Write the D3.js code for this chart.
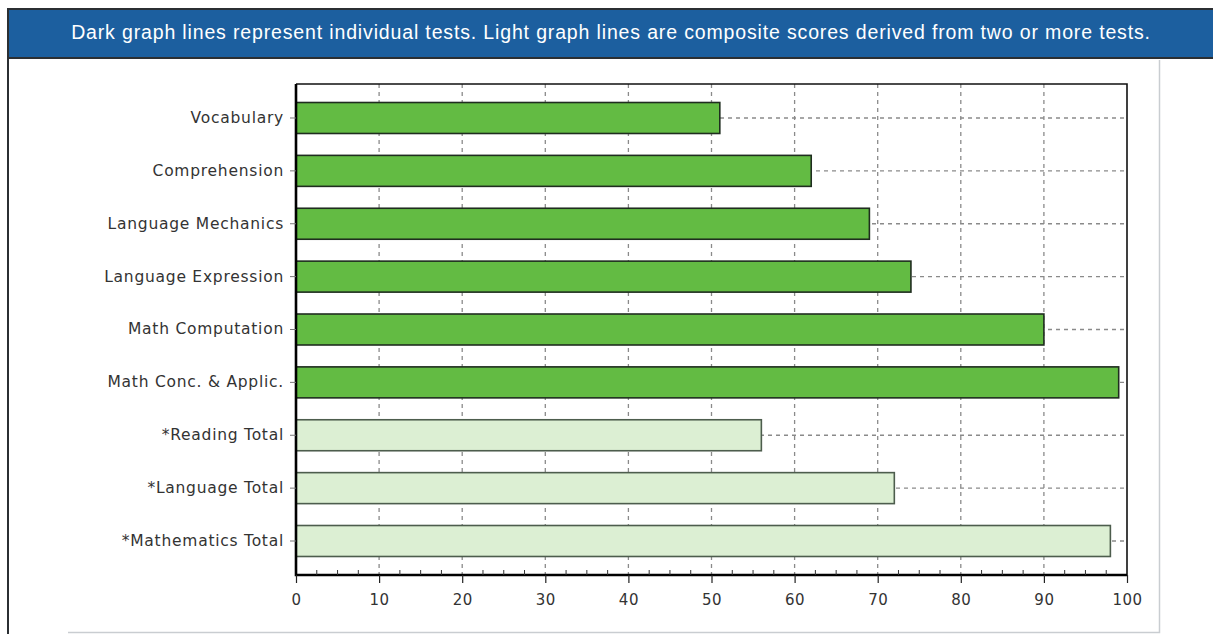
<!doctype html>
<head>
  <meta charset="utf-8">
  <script src="https://cdnjs.cloudflare.com/ajax/libs/d3/7.8.2/d3.min.js"></script>
</head>
<style>
    body { margin: 0; background: #fff; }
    svg { display: block; }
</style>
<body>
    <div id="chart"></div>
    <script>
        // Datos
        const categories = ["Vocabulary", "Comprehension", "Language Mechanics", "Language Expression",
            "Math Computation", "Math Conc. & Applic.", "*Reading Total", "*Language Total", "*Mathematics Total"];
        const scores = [51, 62, 69, 74, 90, 99, 56, 72, 98];
        const composite = [false, false, false, false, false, false, true, true, true];
        const xTicks = [0, 10, 20, 30, 40, 50, 60, 70, 80, 90, 100];
        const headerText = "Dark graph lines represent individual tests. Light graph lines are composite scores derived from two or more tests.";

        const W = 1213, H = 634;
        const plot = { left: 296, right: 1127, top: 84, bottom: 575 };

        const svg = d3.select('#chart').append('svg')
            .attr('width', W).attr('height', H);

        // Cabecera azul
        svg.append('rect').attr('x', 8).attr('y', 9).attr('width', W).attr('height', 49)
            .attr('fill', '#1c5f9f').attr('stroke', '#2b2f33').attr('stroke-width', 2);
        svg.append('line').attr('x1', 8).attr('x2', 8).attr('y1', 8).attr('y2', H)
            .attr('stroke', '#2b2f33').attr('stroke-width', 2);
        svg.append('text').attr('x', 611).attr('y', 39)
            .attr('text-anchor', 'middle').attr('fill', '#fff')
            .style('font-family', 'Liberation Sans, Arial, sans-serif').style('font-size', '19.5px')
            .style('letter-spacing', '0.85px')
            .text(headerText);

        // Panel gris claro
        svg.append('path').attr('d', `M68,632.5H1159.5V60`)
            .attr('fill', 'none').attr('stroke', '#c9cdd1').attr('stroke-width', 1.5);

        const x = d3.scaleLinear().domain([0, 100]).range([plot.left, plot.right]);
        const y = d3.scaleBand().domain(categories).range([plot.top, plot.bottom])
            .paddingInner(0.414).paddingOuter(0.35);

        const g = svg.append('g');
        const labelFont = 'DejaVu Sans, Verdana, sans-serif';

        // Rejilla vertical
        g.selectAll('.vgrid').data(xTicks.slice(1, -1)).enter().append('line')
            .attr('x1', d => x(d)).attr('x2', d => x(d))
            .attr('y1', plot.top).attr('y2', plot.bottom)
            .attr('stroke', '#8a8a8a').attr('stroke-width', 1.3).attr('stroke-dasharray', '4,4');

        // Rejilla horizontal en el centro de cada barra
        g.selectAll('.hgrid').data(categories).enter().append('line')
            .attr('x1', plot.left).attr('x2', plot.right)
            .attr('y1', d => y(d) + y.bandwidth() / 2).attr('y2', d => y(d) + y.bandwidth() / 2)
            .attr('stroke', '#8a8a8a').attr('stroke-width', 1.3).attr('stroke-dasharray', '4,4');

        // Barras
        g.selectAll('.bar').data(categories).enter().append('rect')
            .attr('x', plot.left)
            .attr('y', d => y(d))
            .attr('width', (d, i) => x(scores[i]) - plot.left)
            .attr('height', y.bandwidth())
            .attr('fill', (d, i) => composite[i] ? '#dcefd3' : '#63bb43')
            .attr('stroke', (d, i) => composite[i] ? '#4d5d4d' : '#1f2d1f')
            .attr('stroke-width', 1.6);

        // Marco del área de dibujo
        g.append('path').attr('d', `M${plot.left},${plot.top}H${plot.right}V${plot.bottom}`)
            .attr('fill', 'none').attr('stroke', '#111').attr('stroke-width', 1.6);
        g.append('path').attr('d', `M${plot.left},${plot.top}V${plot.bottom}H${plot.right}`)
            .attr('fill', 'none').attr('stroke', '#000').attr('stroke-width', 2.6);

        // Eje X
        const xAxis = g.append('g').attr('transform', `translate(0,${plot.bottom})`)
            .call(d3.axisBottom(x).tickValues(xTicks).tickSize(8).tickPadding(11));
        xAxis.select('.domain').remove();
        xAxis.selectAll('line').attr('stroke', '#222').attr('stroke-width', 1.2);
        xAxis.selectAll('text').attr('fill', '#333')
            .style('font-family', labelFont).style('font-size', '15px').style('letter-spacing', '0.5px');

        // Marcas menores hacia dentro
        const minor = d3.range(0, 100, 2.5).filter(v => v % 10 !== 0);
        g.selectAll('.minor').data(minor).enter().append('line')
            .attr('x1', d => x(d)).attr('x2', d => x(d))
            .attr('y1', plot.bottom - 5).attr('y2', plot.bottom)
            .attr('stroke', '#333').attr('stroke-width', 1);

        // Eje Y
        const yAxis = g.append('g').attr('transform', `translate(${plot.left},0)`)
            .call(d3.axisLeft(y).tickSize(6).tickPadding(6));
        yAxis.select('.domain').remove();
        yAxis.selectAll('line').attr('stroke', '#777').attr('stroke-width', 1);
        yAxis.selectAll('text').attr('fill', '#333')
            .style('font-family', labelFont).style('font-size', '15.5px').style('letter-spacing', '0.75px');
    </script>
</body>
